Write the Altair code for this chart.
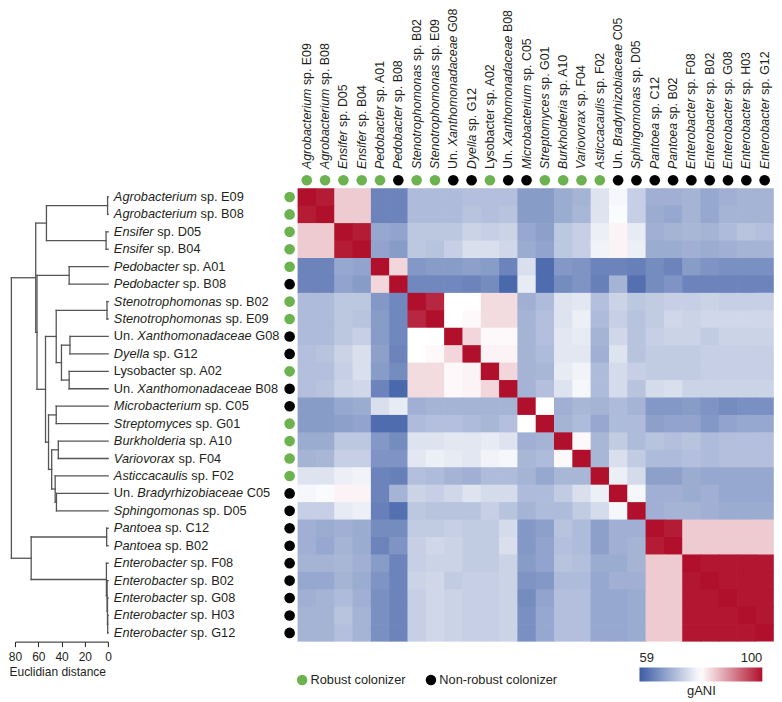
import altair as alt
import pandas as pd

FONT = "Liberation Sans"
TEXT_COLOR = "#231f20"
GREEN = "#6cb24f"
BLUE = "#3c5ca5"
RED = "#b0102c"
LINE_COLOR = "#555555"

# ---------------- data ----------------
strain_names = [
    "Agrobacterium sp. E09", "Agrobacterium sp. B08", "Ensifer sp. D05", "Ensifer sp. B04",
    "Pedobacter sp. A01", "Pedobacter sp. B08", "Stenotrophomonas sp. B02", "Stenotrophomonas sp. E09",
    "Un. Xanthomonadaceae G08", "Dyella sp. G12", "Lysobacter sp. A02", "Un. Xanthomonadaceae B08",
    "Microbacterium sp. C05", "Streptomyces sp. G01", "Burkholderia sp. A10", "Variovorax sp. F04",
    "Asticcacaulis sp. F02", "Un. Bradyrhizobiaceae C05", "Sphingomonas sp. D05", "Pantoea sp. C12",
    "Pantoea sp. B02", "Enterobacter sp. F08", "Enterobacter sp. B02", "Enterobacter sp. G08",
    "Enterobacter sp. H03", "Enterobacter sp. G12",
]
italic_parts = [
    "Agrobacterium", "Agrobacterium", "Ensifer", "Ensifer",
    "Pedobacter", "Pedobacter", "Stenotrophomonas", "Stenotrophomonas",
    "Xanthomonadaceae", "Dyella", "", "Xanthomonadaceae",
    "Microbacterium", "Streptomyces", "Burkholderia", "Variovorax",
    "Asticcacaulis", "Bradyrhizobiaceae", "Sphingomonas", "Pantoea",
    "Pantoea", "Enterobacter", "Enterobacter", "Enterobacter",
    "Enterobacter", "Enterobacter",
]
R_, N_ = "Robust colonizer", "Non-robust colonizer"
colonizer = [R_, R_, R_, R_, R_, N_, R_, R_, N_, N_, R_, N_, N_,
             R_, R_, R_, R_, N_, N_, N_, N_, N_, N_, N_, N_, N_]

# gANI, lower triangle (row i, columns 0..i-1); diagonal = 100
gani_rows = [
    [],
    [99.0],
    [84, 84],
    [84, 84, 99.0],
    [64, 64, 68.5, 68],
    [64, 64, 68, 67, 83],
    [71, 71, 72.5, 72.5, 66.5, 64.5],
    [71, 71, 72.5, 72, 67, 64.5, 98],
    [71, 71, 72.5, 73.5, 67, 64.5, 79.5, 79.5],
    [71.5, 72, 74, 75.5, 67.5, 64, 79.5, 80, 83],
    [71.5, 71.5, 73.5, 75.5, 67, 65, 82.5, 82.5, 80, 80.5],
    [71.5, 72, 74, 74.5, 64, 60.5, 82.5, 82.5, 80, 80.5, 83],
    [67, 67, 68.5, 69, 75.5, 77, 69.5, 70, 70, 70, 70, 70],
    [67, 67, 67.5, 68, 61, 61, 71, 71.5, 71.5, 71, 70.5, 71.5, 79.5],
    [69, 69, 72.5, 72.5, 66.5, 65, 76, 76, 76.5, 76.5, 77, 76, 69.5, 70],
    [70, 70.5, 73.5, 73.5, 66, 66, 76.5, 77.5, 77, 76.5, 78, 78.5, 70.5, 71, 80],
    [76, 76, 77.5, 78, 64, 63.5, 71.5, 71, 70, 69.5, 71, 71, 70, 68.5, 70.5, 70.5],
    [78.5, 79, 80.5, 80.5, 64, 70, 74, 73.5, 74.5, 76, 75, 75, 71, 71, 73, 75.5, 77.5],
    [73.5, 73.5, 77, 77.5, 63.5, 61.5, 72.5, 72, 72, 72, 73.5, 72, 70, 71, 71, 73, 75, 78.5],
    [69.5, 69, 69.5, 69, 65, 65, 73, 73, 73.5, 73, 73, 75, 66.5, 67.5, 72, 71, 67.5, 69.5, 69.5],
    [69.5, 68.5, 70, 69, 64, 66, 73.5, 74.5, 74, 73, 73, 75.5, 66.5, 68, 71.5, 71, 67.5, 69.5, 70, 99],
    [70, 70, 70.5, 69.5, 67, 64, 73.5, 74, 74, 73, 73, 74, 67, 68, 72, 71.5, 69, 69, 70, 84, 84],
    [68.5, 68.5, 70, 69, 66, 64, 74, 74.5, 73, 73.5, 73.5, 74, 66, 66.5, 71, 71, 68.5, 69.5, 69.5, 84, 84, 99.5],
    [69.5, 70, 71, 69.5, 65.5, 64, 73.5, 74.5, 74, 73.5, 73.5, 74, 65, 68, 71.5, 71.5, 68.5, 68.5, 69, 84, 84, 99.5, 99.5],
    [70, 70, 72, 70, 65.5, 64, 73.5, 74.5, 74, 73.5, 73.5, 74, 65.5, 68.5, 71.5, 71.5, 68.5, 68.5, 69, 84, 84, 99.5, 99.5, 99.5],
    [70, 70, 71.5, 70, 65.5, 64, 73.5, 74.5, 74, 73.5, 73.5, 74, 65.5, 68.5, 71.5, 71.5, 68.5, 68.5, 69, 84, 84, 99.5, 99.5, 99.5, 99.5],
]

# hierarchical clustering (R hclust style: negative = leaf, positive = earlier merge)
merge_a = [-1, -3, 1, -5, -7, -9, -11, 6, 5, -13, -15, -18, -17, 11, 10, 9, 4, 3, -20, -25, -24, -23, -22, 19, 18]
merge_b = [-2, -4, 2, -6, -8, -10, -12, 7, 8, -14, -16, -19, 12, 13, 14, 15, 16, 17, -21, -26, 20, 21, 22, 23, 24]
merge_height = [0.5, 1.8, 53.0, 33.5, 1.0, 32.8, 33.5, 40.1, 44.6, 44.6, 42.8, 44.4, 45.5, 48.5,
                51.2, 53.8, 61.1, 62.2, 1.3, 0.4, 0.6, 0.9, 1.5, 66.1, 83.1]

# ---------------- layout constants ----------------
N = len(strain_names)
ROW_PX = 17.46
COL_PX = 18.34
TOP_UNITS = 180.0 / ROW_PX
LEFT_UNITS = 189.0 / COL_PX
MAIN_W = round((LEFT_UNITS + N) * COL_PX, 1)
PANEL_H = round((TOP_UNITS + N) * ROW_PX, 1)
DENDRO_X0 = 14.7          # page x of the dendrogram view origin
DENDRO_W = 93.3
DOT_GAP_PX = 8.0
ROW_LABEL_PX = 5.0
COL_LABEL_Y = -1.1
ROW_FS = 12.8
COL_FS = 12.4
SEAM_PX = 0.7             # tiny overlap so neighbouring cells leave no hairline gaps

# Arial / Liberation Sans advance widths (1/1000 em)
ARIAL = {" ": 278, ".": 278, "-": 333}
ARIAL.update({d: 556 for d in "0123456789"})
ARIAL.update(dict(zip("abcdefghijklmnopqrstuvwxyz",
                      [556, 556, 500, 556, 556, 278, 556, 556, 222, 222, 500, 222, 833,
                       556, 556, 556, 556, 333, 500, 278, 556, 500, 722, 500, 500, 500])))
ARIAL.update(dict(zip("ABCDEFGHIJKLMNOPQRSTUVWXYZ",
                      [667, 667, 722, 722, 667, 611, 778, 722, 278, 500, 667, 556, 833,
                       722, 778, 667, 778, 722, 667, 611, 722, 667, 944, 667, 667, 611])))


def tw(s):
    return sum(ARIAL.get(c, 556) for c in s) / 1000.0


def split_label(name, ital):
    if not ital:
        return [(name, False, 0.0)]
    k = name.index(ital)
    pre, post = name[:k], name[k + len(ital):]
    segs = []
    if pre.strip():
        segs.append((pre.strip(), False, 0.0))
    segs.append((ital, True, tw(pre)))
    if post.strip():
        lead = len(post) - len(post.lstrip())
        segs.append((post.strip(), False, tw(pre) + tw(ital) + tw(post[:lead])))
    return segs


# ---------------- tables ----------------
cells = []
for i in range(N):
    for j in range(N):
        v = 100.0 if i == j else gani_rows[max(i, j)][min(i, j)]
        x2 = j + 1 + (SEAM_PX / COL_PX if j < N - 1 else 0)
        y2 = i + 1 + (SEAM_PX / ROW_PX if i < N - 1 else 0)
        cells.append({"x": j, "x2": x2, "y": i, "y2": y2, "gani": v})
cells = pd.DataFrame(cells)

dots = []
for i in range(N):
    dots.append({"x": -DOT_GAP_PX / COL_PX, "y": i + 0.5, "colonizer": colonizer[i]})
    dots.append({"x": i + 0.5, "y": -DOT_GAP_PX / ROW_PX, "colonizer": colonizer[i]})
dots = pd.DataFrame(dots)

row_segs, col_segs = [], []
for i, (nm, it) in enumerate(zip(strain_names, italic_parts)):
    for text, ital, off in split_label(nm, it):
        row_segs.append({"x": -LEFT_UNITS + (ROW_LABEL_PX + off * ROW_FS) / COL_PX,
                         "y": i + 0.5, "text": text, "italic": ital})
        col_segs.append({"x": i + 0.5, "y": COL_LABEL_Y - off * COL_FS / ROW_PX,
                         "text": text, "italic": ital})
row_segs = pd.DataFrame(row_segs)
col_segs = pd.DataFrame(col_segs)

# dendrogram segments
node_y, node_h = {}, {}


def child(c):
    if c < 0:
        return (-c - 1) + 0.5, 0.0
    return node_y[c], node_h[c]


segs = []
for k, (a, b, h) in enumerate(zip(merge_a, merge_b, merge_height), start=1):
    ya, ha = child(a)
    yb, hb = child(b)
    node_y[k], node_h[k] = (ya + yb) / 2.0, h
    segs.append({"d1": h, "d2": h, "y1": ya, "y2": yb})
    segs.append({"d1": ha, "d2": h, "y1": ya, "y2": ya})
    segs.append({"d1": hb, "d2": h, "y1": yb, "y2": yb})
segs = pd.DataFrame(segs)

# ---------------- scales ----------------
xs = alt.Scale(domain=[-LEFT_UNITS, N], nice=False, zero=False)
ys = alt.Scale(domain=[-TOP_UNITS, N], nice=False, zero=False, reverse=True)

heat = alt.Chart(cells).mark_rect().encode(
    x=alt.X("x:Q", scale=xs, axis=None),
    x2="x2:Q",
    y=alt.Y("y:Q", scale=ys, axis=None),
    y2="y2:Q",
    color=alt.Color(
        "gani:Q",
        scale=alt.Scale(domain=[59, 79.5, 100], range=[BLUE, "#ffffff", RED], interpolate="rgb"),
        legend=alt.Legend(
            type="gradient",
            orient="none", legendX=640 - DENDRO_X0, legendY=660, direction="horizontal",
            title="gANI", titleOrient="bottom", titleAnchor="middle",
            titleFontWeight="normal", titleFontSize=13, titleFont=FONT,
            titleColor=TEXT_COLOR, titlePadding=3,
            gradientLength=123, gradientThickness=14, values=[59, 100],
            labelOffset={"expr": "-30"}, labelFontSize=13, labelFont=FONT,
            labelColor=TEXT_COLOR, labelAlign="center", padding=0,
        ),
    ),
)

dot_layer = alt.Chart(dots).mark_circle(size=113, opacity=1).encode(
    x=alt.X("x:Q", scale=xs, axis=None),
    y=alt.Y("y:Q", scale=ys, axis=None),
    fill=alt.Fill(
        "colonizer:N",
        scale=alt.Scale(domain=[R_, N_], range=[GREEN, "#000000"]),
        legend=alt.Legend(
            orient="none", legendX=301.7 - 5.9 - DENDRO_X0, legendY=665.6, direction="horizontal",
            title=None, labelFontSize=12.8, labelFont=FONT, labelColor=TEXT_COLOR,
            symbolSize=110, symbolType="circle", labelOffset=2, columnPadding=18,
            padding=0, symbolStrokeWidth=0,
        ),
    ),
)


def text_layer(df, italic, rotated):
    fs = COL_FS if rotated else ROW_FS
    kw = dict(align="left", baseline="middle", font=FONT, fontSize=fs,
              fontStyle="italic" if italic else "normal", color=TEXT_COLOR)
    if rotated:
        kw["angle"] = 270
    return alt.Chart(df[df["italic"] == italic]).mark_text(**kw).encode(
        x=alt.X("x:Q", scale=xs, axis=None),
        y=alt.Y("y:Q", scale=ys, axis=None),
        text="text:N",
    )


main = alt.layer(
    heat, dot_layer,
    text_layer(row_segs, True, False), text_layer(row_segs, False, False),
    text_layer(col_segs, True, True), text_layer(col_segs, False, True),
).properties(width=MAIN_W, height=PANEL_H)

dendro = alt.Chart(segs).mark_rule(color=LINE_COLOR, strokeWidth=1.3, strokeCap="square").encode(
    x=alt.X("d1:Q", scale=alt.Scale(domain=[0, 80], reverse=True, nice=False, zero=False),
            axis=alt.Axis(values=[0, 20, 40, 60, 80], title="Euclidian distance", grid=False,
                          tickSize=5, labelFontSize=12, titleFontSize=12, titleFontWeight="normal",
                          labelFont=FONT, titleFont=FONT, domainColor=TEXT_COLOR,
                          tickColor=TEXT_COLOR, labelColor=TEXT_COLOR, titleColor=TEXT_COLOR,
                          labelPadding=5, titlePadding=4, titleX=-6, titleAlign="left",
                          labelFlush=False)),
    x2="d2:Q",
    y=alt.Y("y1:Q", scale=ys, axis=None),
    y2="y2:Q",
).properties(width=DENDRO_W, height=PANEL_H)

chart = alt.hconcat(dendro, main, spacing=0, bounds="flush").properties(
    padding=0
).configure_view(stroke=None)

chart.save("out.html", embed_options={"renderer": "svg", "actions": False})
